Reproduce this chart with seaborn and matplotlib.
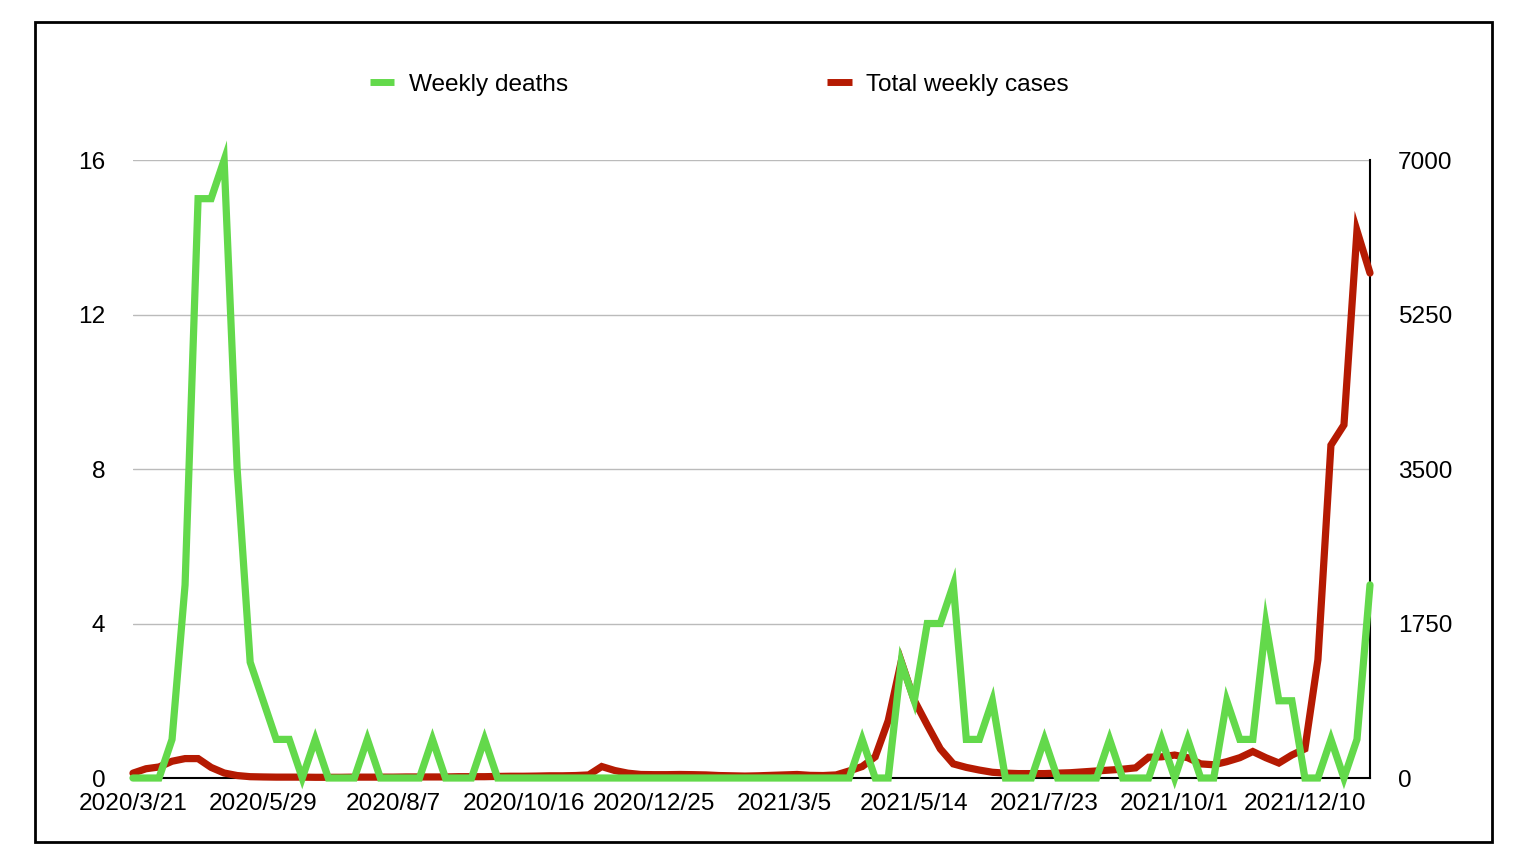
import numpy as np
import pandas as pd
import seaborn as sns
import matplotlib.pyplot as plt
from matplotlib.lines import Line2D
from matplotlib.patches import Rectangle

# weekly data, 96 weeks starting 2020/3/21
deaths = [0, 0, 0, 1, 5, 15, 15, 16, 8, 3, 2, 1, 1, 0, 1, 0, 0, 0, 1, 0,
          0, 0, 0, 1, 0, 0, 0, 1, 0, 0, 0, 0, 0, 0, 0, 0, 0, 0, 0, 0,
          0, 0, 0, 0, 0, 0, 0, 0, 0, 0, 0, 0, 0, 0, 0, 0, 1, 0, 0, 3,
          2, 4, 4, 5, 1, 1, 2, 0, 0, 0, 1, 0, 0, 0, 0, 1, 0, 0, 0, 1,
          0, 1, 0, 0, 2, 1, 1, 4, 2, 2, 0, 0, 1, 0, 1, 5]
cases = [55, 105, 125, 190, 220, 220, 120, 57, 28, 15, 12, 10, 10, 10, 8, 8, 8, 10, 10, 10,
         10, 12, 12, 12, 12, 15, 15, 15, 18, 20, 20, 22, 25, 25, 28, 35, 130, 85, 55, 40,
         38, 38, 40, 38, 35, 28, 25, 22, 25, 30, 35, 40, 30, 28, 35, 80, 130, 240, 650, 1320,
         880, 600, 330, 160, 120, 90, 65, 55, 50, 50, 50, 55, 60, 70, 80, 90, 100, 115, 235, 240,
         260, 230, 160, 150, 185, 230, 300, 230, 170, 260, 330, 1340, 3770, 4000, 6200, 5720]
tick_labels = ["2020/3/21", "2020/5/29", "2020/8/7", "2020/10/16", "2020/12/25",
               "2021/3/5", "2021/5/14", "2021/7/23", "2021/10/1", "2021/12/10"]

green = "#63D94B"
red = "#B51A02"

df = pd.DataFrame({"week": np.arange(len(deaths)), "deaths": deaths, "cases": cases})

sns.set_theme(style="white")
plt.rcParams["font.family"] = ["Liberation Sans", "DejaVu Sans"]
plt.rcParams["text.color"] = "black"
fs = 17.6

fig = plt.figure(figsize=(15.18, 8.66), dpi=100)
ax = fig.add_axes([0.0876, 0.1016, 0.8149, 0.7136])
ax2 = ax.twinx()

# right axis: cases, grid, frame lines (drawn underneath)
sns.lineplot(data=df, x="week", y="cases", ax=ax2, color=red, lw=5.2, zorder=3,
             clip_on=False, solid_joinstyle="miter")
ax2.set_ylim(0, 7000)
ax2.set_yticks([0, 1750, 3500, 5250, 7000])
ax2.yaxis.grid(True, color="#BBBBBB", lw=1)
ax2.set_ylabel("")
for s in ["top", "left"]:
    ax2.spines[s].set_visible(False)
for s in ["bottom", "right"]:
    ax2.spines[s].set_visible(True)
    ax2.spines[s].set_color("black")
    ax2.spines[s].set_linewidth(1.5)
ax2.tick_params(axis="y", length=0, pad=20, labelsize=fs, colors="black")

# left axis: deaths on top
ax.set_zorder(ax2.get_zorder() + 1)
ax.patch.set_visible(False)
sns.lineplot(data=df, x="week", y="deaths", ax=ax, color=green, lw=5.2,
             clip_on=False, solid_joinstyle="miter")
ax.set_ylim(0, 16)
ax.set_yticks([0, 4, 8, 12, 16])
ax.set_xlim(0, len(deaths) - 1)
ax.set_xticks(range(0, 100, 10))
ax.set_xticklabels(tick_labels)
ax.set_xlabel("")
ax.set_ylabel("")
for s in ax.spines.values():
    s.set_visible(False)
ax.tick_params(axis="both", length=0, labelsize=fs, colors="black")
ax.tick_params(axis="y", pad=20)
ax.tick_params(axis="x", pad=11)

handles = [Line2D([0], [0], color=green, lw=5, solid_capstyle="butt"),
           Line2D([0], [0], color=red, lw=5, solid_capstyle="butt")]
leg = fig.legend(handles, ["Weekly deaths", "Total weekly cases"], loc="center",
                 bbox_to_anchor=(0.474, 0.902), ncol=2, frameon=False, fontsize=fs,
                 handlelength=1.0, handletextpad=0.6, columnspacing=10.6)
for t in leg.get_texts():
    t.set_color("black")

fig.patches.append(Rectangle((35 / 1518, 1 - 842 / 866), 1457 / 1518, 820 / 866,
                             transform=fig.transFigure, fill=False, lw=2, ec="black"))

fig.savefig("out.png", dpi=100)
